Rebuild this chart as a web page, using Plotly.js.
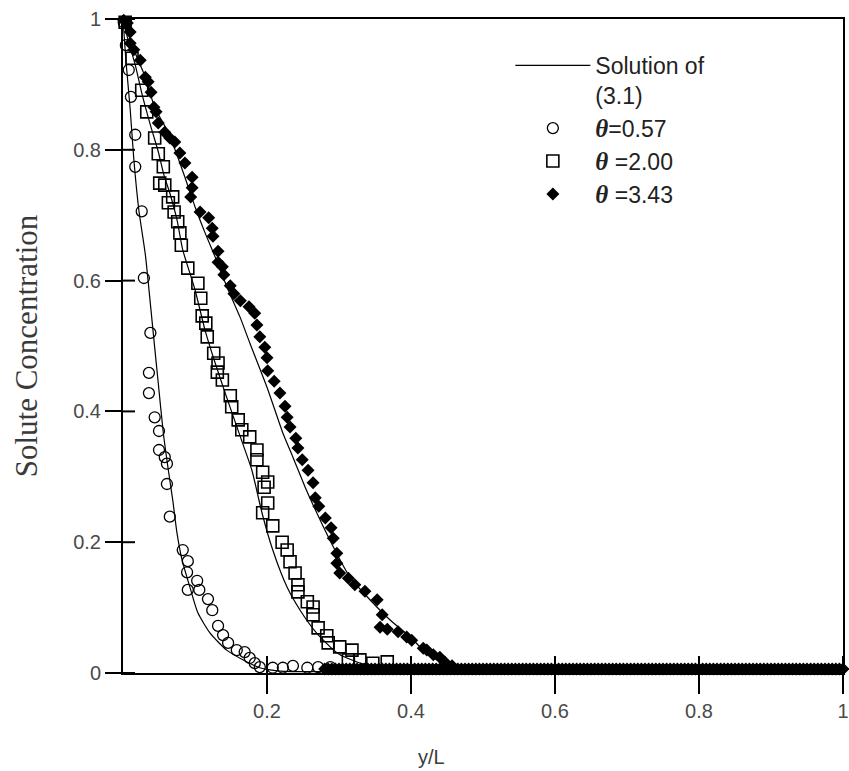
<!DOCTYPE html>
<html>
<head>
<meta charset="utf-8">
<script src="https://cdn.plot.ly/plotly-3.0.1.min.js"></script>
<style>html,body{margin:0;padding:0;background:#fff;}</style>
</head>
<body>
<div id="chart" style="width:849px;height:771px;"></div>
<script>
// Solution of (3.1) curves
const sol1X = [0,0.004,0.010,0.015,0.022,0.031,0.035,0.042,0.049,0.056,0.063,0.069,0.075,0.082,0.093,0.104,0.121,0.144,0.167,0.190,0.218,0.288,1.0];
const sol1Y = [1,0.937,0.862,0.786,0.708,0.640,0.598,0.520,0.443,0.367,0.310,0.265,0.214,0.173,0.131,0.092,0.061,0.035,0.020,0.008,0.003,0.002,0];
const sol2X = [0,0.007,0.017,0.026,0.038,0.049,0.057,0.065,0.075,0.083,0.100,0.114,0.128,0.142,0.163,0.179,0.193,0.208,0.228,0.246,0.269,0.297,0.311,0.339,0.371,0.413,0.468,1.0];
const sol2Y = [1,0.968,0.930,0.887,0.838,0.797,0.761,0.734,0.693,0.647,0.586,0.524,0.474,0.428,0.361,0.310,0.245,0.188,0.131,0.096,0.061,0.031,0.023,0.012,0.006,0.003,0.002,0];
const sol3X = [0,0.017,0.031,0.044,0.063,0.076,0.086,0.100,0.114,0.128,0.146,0.163,0.176,0.200,0.222,0.236,0.253,0.264,0.292,0.315,0.343,0.371,0.399,0.417,0.436,0.458,0.496,0.551,1.0];
const sol3Y = [1,0.948,0.911,0.865,0.826,0.789,0.758,0.713,0.673,0.636,0.586,0.543,0.505,0.437,0.367,0.330,0.284,0.257,0.193,0.147,0.112,0.081,0.055,0.035,0.020,0.009,0.003,0.002,0];

// theta = 0.57 (circles)
const circX = [0.001,0.004,0.008,0.011,0.017,0.017,0.026,0.029,0.038,0.036,0.036,0.044,0.050,0.050,0.058,0.061,0.061,0.065,0.083,0.090,0.089,0.103,0.090,0.106,0.118,0.124,0.132,0.139,0.146,0.158,0.169,0.176,0.183,0.190,0.208,0.222,0.236,0.256,0.271,0.288];
const circY = [0.995,0.960,0.922,0.881,0.823,0.774,0.706,0.604,0.520,0.459,0.428,0.391,0.370,0.341,0.330,0.320,0.289,0.239,0.188,0.171,0.154,0.141,0.127,0.127,0.113,0.096,0.072,0.058,0.046,0.035,0.032,0.023,0.015,0.009,0.008,0.008,0.011,0.008,0.009,0.009];

// theta = 2.00 (squares)
const sqX = [0.003,0.0125,0.026,0.033,0.044,0.049,0.056,0.051,0.058,0.069,0.063,0.071,0.076,0.079,0.081,0.090,0.104,0.108,0.110,0.115,0.117,0.126,0.132,0.131,0.138,0.149,0.151,0.160,0.165,0.176,0.186,0.186,0.194,0.201,0.196,0.201,0.194,0.208,0.221,0.228,0.232,0.239,0.243,0.243,0.256,0.264,0.264,0.271,0.283,0.285,0.301,0.313,0.318,0.329,0.347,0.367];
const sqY = [0.995,0.940,0.891,0.858,0.818,0.794,0.774,0.749,0.746,0.728,0.719,0.705,0.690,0.673,0.654,0.619,0.596,0.573,0.546,0.535,0.514,0.489,0.474,0.460,0.448,0.424,0.407,0.387,0.372,0.361,0.341,0.326,0.307,0.292,0.284,0.260,0.245,0.225,0.200,0.188,0.170,0.153,0.135,0.124,0.109,0.101,0.089,0.069,0.057,0.046,0.040,0.020,0.035,0.020,0.015,0.017];

// theta = 3.43 (filled diamonds)
const dmX = [0.001,0.006,0.010,0.010,0.015,0.024,0.031,0.035,0.039,0.043,0.046,0.049,0.058,0.065,0.072,0.079,0.086,0.096,0.096,0.094,0.107,0.119,0.124,0.125,0.132,0.132,0.138,0.140,0.149,0.154,0.163,0.175,0.183,0.186,0.190,0.197,0.200,0.201,0.210,0.218,0.225,0.228,0.232,0.240,0.243,0.249,0.257,0.264,0.267,0.272,0.281,0.289,0.292,0.297,0.297,0.301,0.313,0.322,0.336,0.353,0.360,0.357,0.367,0.382,0.394,0.401,0.417,0.422,0.431,0.440,0.447,0.457];
const dmY = [0.998,0.994,0.980,0.963,0.953,0.937,0.911,0.904,0.888,0.865,0.858,0.841,0.827,0.818,0.812,0.795,0.780,0.758,0.742,0.728,0.705,0.696,0.680,0.668,0.645,0.628,0.621,0.609,0.592,0.580,0.569,0.560,0.550,0.532,0.514,0.498,0.482,0.462,0.446,0.428,0.408,0.391,0.376,0.359,0.344,0.326,0.310,0.291,0.268,0.255,0.237,0.222,0.206,0.183,0.168,0.153,0.145,0.135,0.125,0.112,0.089,0.070,0.067,0.063,0.055,0.050,0.038,0.035,0.028,0.024,0.017,0.011];
// near-zero tail of theta = 3.43 (dense band along the axis)
const dmTailX = [
0.280,0.285,0.290,0.295,0.300,0.305,0.310,0.315,0.320,0.325,
0.330,0.335,0.340,0.345,0.350,0.355,0.360,0.365,0.370,0.375,
0.380,0.385,0.390,0.395,0.400,0.405,0.410,0.415,0.420,0.425,
0.430,0.435,0.440,0.445,0.450,0.455,0.460,0.465,0.470,0.475,
0.480,0.485,0.490,0.495,0.500,0.505,0.510,0.515,0.520,0.525,
0.530,0.535,0.540,0.545,0.550,0.555,0.560,0.565,0.570,0.575,
0.580,0.585,0.590,0.595,0.600,0.605,0.610,0.615,0.620,0.625,
0.630,0.635,0.640,0.645,0.650,0.655,0.660,0.665,0.670,0.675,
0.680,0.685,0.690,0.695,0.700,0.705,0.710,0.715,0.720,0.725,
0.730,0.735,0.740,0.745,0.750,0.755,0.760,0.765,0.770,0.775,
0.780,0.785,0.790,0.795,0.800,0.805,0.810,0.815,0.820,0.825,
0.830,0.835,0.840,0.845,0.850,0.855,0.860,0.865,0.870,0.875,
0.880,0.885,0.890,0.895,0.900,0.905,0.910,0.915,0.920,0.925,
0.930,0.935,0.940,0.945,0.950,0.955,0.960,0.965,0.970,0.975,
0.980,0.985,0.990,0.995,1.000];
const dmTailY = [
0.006,0.006,0.006,0.006,0.006,0.006,0.006,0.006,0.006,0.006,
0.006,0.006,0.006,0.006,0.006,0.006,0.006,0.006,0.006,0.006,
0.006,0.006,0.006,0.006,0.006,0.006,0.006,0.006,0.006,0.006,
0.006,0.006,0.006,0.006,0.006,0.006,0.006,0.006,0.006,0.006,
0.006,0.006,0.006,0.006,0.006,0.006,0.006,0.006,0.006,0.006,
0.006,0.006,0.006,0.006,0.006,0.006,0.006,0.006,0.006,0.006,
0.006,0.006,0.006,0.006,0.006,0.006,0.006,0.006,0.006,0.006,
0.006,0.006,0.006,0.006,0.006,0.006,0.006,0.006,0.006,0.006,
0.006,0.006,0.006,0.006,0.006,0.006,0.006,0.006,0.006,0.006,
0.006,0.006,0.006,0.006,0.006,0.006,0.006,0.006,0.006,0.006,
0.006,0.006,0.006,0.006,0.006,0.006,0.006,0.006,0.006,0.006,
0.006,0.006,0.006,0.006,0.006,0.006,0.006,0.006,0.006,0.006,
0.006,0.006,0.006,0.006,0.006,0.006,0.006,0.006,0.006,0.006,
0.006,0.006,0.006,0.006,0.006,0.006,0.006,0.006,0.006,0.006,
0.006,0.006,0.006,0.006,0.006];

const xTicks = [0.2,0.4,0.6,0.8,1];
const xTickText = ['0.2','0.4','0.6','0.8','1'];
const yTicks = [0,0.2,0.4,0.6,0.8,1];
const yTickText = ['0','0.2','0.4','0.6','0.8','1'];

const NB = '\u00a0';
const th = '<span style="font-family:\'Liberation Serif\';font-size:25px"><b><i>θ</i></b></span>';
const names = {
  sol: 'Solution of<br>(3.1)',
  c: th+'=0.57',
  s: th+' =2.00',
  d: th+' =3.43'
};

const lineStyle = {color:'#000', width:1.2, shape:'spline', smoothing:0.6};
const traces = [
  {x:sol1X, y:sol1Y, mode:'lines', line:lineStyle, name:names.sol, legendgroup:'sol', showlegend:true, cliponaxis:false},
  {x:sol2X, y:sol2Y, mode:'lines', line:lineStyle, name:names.sol, legendgroup:'sol', showlegend:false, cliponaxis:false},
  {x:sol3X, y:sol3Y, mode:'lines', line:lineStyle, name:names.sol, legendgroup:'sol', showlegend:false, cliponaxis:false},
  {x:circX, y:circY, mode:'markers', name:names.c, cliponaxis:false,
   marker:{symbol:'circle-open', size:11, color:'#000', line:{width:1.3, color:'#000'}}},
  {x:sqX, y:sqY, mode:'markers', name:names.s, cliponaxis:false,
   marker:{symbol:'square-open', size:12, color:'#000', line:{width:1.6, color:'#000'}}},
  {x:dmX.concat(dmTailX), y:dmY.concat(dmTailY), mode:'markers', name:names.d, cliponaxis:false,
   marker:{symbol:'diamond', size:10, color:'#000', line:{width:0}}}
];

// inward halves of the crossing tick marks (the outward halves are the axes' own ticks)
const tickShapes = xTicks.map(v => ({type:'line', xref:'x', yref:'paper', x0:v, x1:v, y0:0, y1:0.026,
    line:{color:'#000', width:2}, layer:'above'}))
  .concat(yTicks.map(v => ({type:'line', xref:'paper', yref:'y', x0:0, x1:0.0167, y0:v, y1:v,
    line:{color:'#000', width:2}, layer:'above'})));

const layout = {
  width:849, height:771,
  margin:{l:123, r:6, t:19, b:98, pad:0},
  paper_bgcolor:'#fff', plot_bgcolor:'#fff',
  font:{family:'"Liberation Sans", Arial, sans-serif', color:'#444'},
  showlegend:true,
  xaxis:{range:[0,1], tickmode:'array', tickvals:xTicks, ticktext:xTickText,
    ticks:'outside', ticklen:19, tickwidth:2, tickcolor:'#000',
    showline:true, linecolor:'#000', linewidth:2, mirror:true,
    showgrid:false, zeroline:false, tickfont:{size:20, color:'#4a4a4a'}},
  yaxis:{range:[0,1], tickmode:'array', tickvals:yTicks, ticktext:yTickText,
    ticks:'outside', ticklen:16, tickwidth:2, tickcolor:'#000',
    showline:true, linecolor:'#000', linewidth:2, mirror:true,
    showgrid:false, zeroline:false, tickfont:{size:20, color:'#4a4a4a'},
    title:{text:'Solute Concentration', standoff:26,
      font:{family:'"Liberation Serif", "Times New Roman", serif', size:31, color:'#3a3a3a'}}},
  shapes: tickShapes,
  legend:{x:0.538, y:0.962, xanchor:'left', yanchor:'top', bgcolor:'rgba(0,0,0,0)',
    borderwidth:0, valign:'top', traceorder:'normal', itemwidth:75,
    font:{family:'"Liberation Sans", Arial, sans-serif', size:23, color:'#222'}},
  annotations:[{text:'y/L', xref:'paper', yref:'paper', x:0.429, y:-0.128,
    xanchor:'center', yanchor:'middle', showarrow:false,
    font:{family:'"Liberation Sans", Arial, sans-serif', size:20, color:'#3a3a3a'}}]
};

Plotly.newPlot('chart', traces, layout, {displayModeBar:false, staticPlot:true});
</script>
</body>
</html>
